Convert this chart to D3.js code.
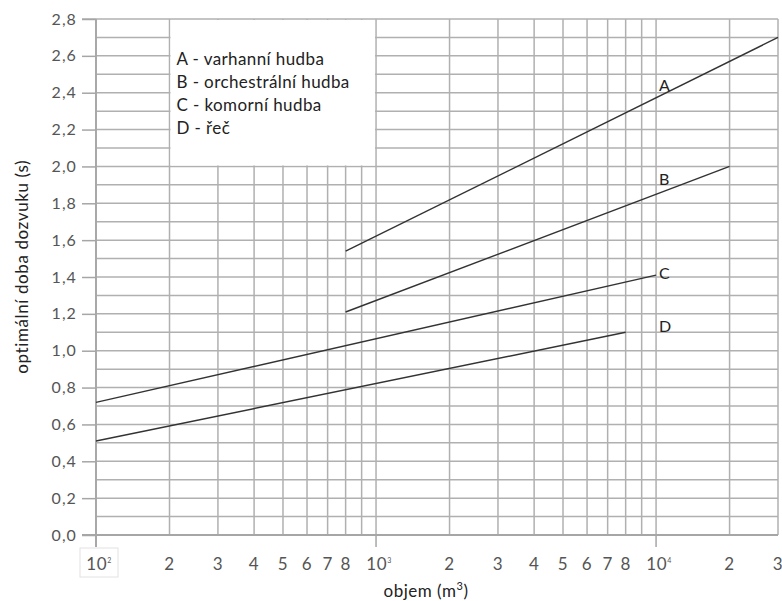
<!DOCTYPE html>
<html>
<head>
<meta charset="utf-8">
<script src="https://cdn.jsdelivr.net/npm/d3@7"></script>
<style>
  body { margin: 0; background: #fff; }
  svg { display: block; font-family: Lato, "Open Sans", sans-serif; }
</style>
</head>
<body>
<svg></svg>
<script>
'use strict';

// curves: [volume m3, reverberation time s] at the two ends of each straight segment
var curveNames = ['A', 'B', 'C', 'D'];
var curveA = [[800, 1.54], [30000, 2.70]];
var curveB = [[800, 1.21], [20000, 2.00]];
var curveC = [[100, 0.72], [10000, 1.41]];
var curveD = [[100, 0.51], [8000, 1.10]];
var labelValues = [2.41, 1.90, 1.39, 1.10];   // where the letters sit next to the 10^4 line

var legendItems = ['A - varhanní hudba', 'B - orchestrální hudba', 'C - komorní hudba', 'D - řeč'];

var yTicks = [0, 0.2, 0.4, 0.6, 0.8, 1.0, 1.2, 1.4, 1.6, 1.8, 2.0, 2.2, 2.4, 2.6, 2.8];
var xTickValues = [100, 200, 300, 400, 500, 600, 700, 800, 1000, 2000, 3000, 4000, 5000, 6000, 7000, 8000, 10000, 20000, 30000];
var xTickLabels = ['10|2', '2', '3', '4', '5', '6', '7', '8', '10|3', '2', '3', '4', '5', '6', '7', '8', '10|4', '2', '3'];

function render() {
    var w = 782;
    var h = 601;
    var m = { left: 96, right: 4, top: 19, bottom: 66 };
    var d3 = window.d3;

    var svg = d3.select('svg').attr('width', w).attr('height', h);

    // the printed grid is not a pure log grid: inside each decade the spacing
    // follows log((m + 0.5) / 1.5) / log(7)
    function warp(v) {
        var e = Math.floor(Math.log10(v) + 1e-9);
        var mant = v / Math.pow(10, e);
        return e + Math.log((mant + 0.5) / 1.5) / Math.log(7);
    }

    var xs = d3.scaleLinear().domain([warp(100), warp(30000)]).range([m.left, w - m.right]);
    var x = function (v) { return xs(warp(v)); };
    var y = d3.scaleLinear().domain([0, 2.8]).range([h - m.bottom, m.top]);

    var gridColor = '#b0b0b0';
    var g = svg.append('g');

    // horizontal grid every 0.1
    var hLines = d3.range(1, 28).map(function (i) { return i / 10; });
    g.selectAll('.hgrid').data(hLines).enter().append('line')
        .attr('x1', m.left).attr('x2', w - m.right)
        .attr('y1', function (d) { return y(d); }).attr('y2', function (d) { return y(d); })
        .attr('stroke', gridColor).attr('stroke-width', 1.5);

    // vertical grid at every mantissa 1..9
    var vLines = [];
    [100, 1000, 10000].forEach(function (dec) {
        for (var k = 1; k <= 9; k++) {
            if (dec * k <= 30000) vLines.push(dec * k);
        }
    });
    g.selectAll('.vgrid').data(vLines).enter().append('line')
        .attr('x1', function (d) { return x(d); }).attr('x2', function (d) { return x(d); })
        .attr('y1', y(0)).attr('y2', y(2.8))
        .attr('stroke', gridColor).attr('stroke-width', 1.5);

    // legend panel blanks out part of the grid
    g.append('rect')
        .attr('x', x(200) + 1).attr('y', y(2.8) + 1)
        .attr('width', x(1000) - x(200) - 2).attr('height', y(2.0) - y(2.8) - 2)
        .attr('fill', '#fff');

    // frame top and axes
    g.append('line').attr('x1', m.left - 14).attr('x2', w - m.right).attr('y1', y(2.8)).attr('y2', y(2.8))
        .attr('stroke', gridColor).attr('stroke-width', 1.5);
    g.append('line').attr('x1', m.left - 14).attr('x2', w - m.right).attr('y1', y(0)).attr('y2', y(0))
        .attr('stroke', '#a6a6a6').attr('stroke-width', 1.8);
    g.append('line').attr('x1', m.left).attr('x2', m.left).attr('y1', y(0) + 12).attr('y2', y(2.8))
        .attr('stroke', '#a6a6a6').attr('stroke-width', 1.8);

    // y axis
    var yAxis = d3.axisLeft(y).tickValues(yTicks).tickSize(14).tickPadding(5)
        .tickFormat(function (d) { return d3.format('.1f')(d).replace('.', ','); });
    var ya = svg.append('g').attr('transform', 'translate(' + m.left + ',0)').call(yAxis);
    ya.select('.domain').remove();
    ya.selectAll('.tick line').attr('stroke', '#a6a6a6').attr('stroke-width', 1.5);
    ya.selectAll('.tick text').attr('fill', '#555').attr('font-size', 16)
        .attr('font-family', 'Lato, sans-serif').attr('letter-spacing', 1.1);

    // x axis labels
    var xa = svg.append('g');
    xa.selectAll('.xdec').data(xTickValues.filter(function (d, i) { return xTickLabels[i].indexOf('|') > -1; }))
        .enter().append('line')
        .attr('x1', function (d) { return x(d); }).attr('x2', function (d) { return x(d); })
        .attr('y1', y(0)).attr('y2', y(0) + 12)
        .attr('stroke', '#a6a6a6').attr('stroke-width', 1.5);

    xa.append('rect').attr('x', x(100) - 16).attr('y', y(0) + 13).attr('width', 38).attr('height', 29)
        .attr('fill', '#fff').attr('stroke', '#e2e2e2').attr('stroke-width', 1);

    xTickValues.forEach(function (v, i) {
        var parts = xTickLabels[i].split('|');
        var t = xa.append('text')
            .attr('x', x(v) + (parts.length > 1 ? 3 : 0)).attr('y', y(0) + 35)
            .attr('text-anchor', 'middle').attr('fill', '#555')
            .attr('font-size', 17).attr('letter-spacing', 0.6);
        t.append('tspan').text(parts[0]);
        if (parts.length > 1) {
            t.append('tspan').attr('font-size', 7).attr('dy', -7).text(parts[1]);
        }
    });

    // axis titles
    var xt = svg.append('text').attr('x', 426).attr('y', h - 4).attr('text-anchor', 'middle')
        .attr('fill', '#222').attr('font-size', 17).attr('letter-spacing', 0.5);
    xt.append('tspan').text('objem (m');
    xt.append('tspan').attr('font-size', 11).attr('dy', -7).text('3');
    xt.append('tspan').attr('dy', 7).text(')');

    svg.append('text')
        .attr('transform', 'translate(28,' + (y(1.45) - 1) + ') rotate(-90)')
        .attr('text-anchor', 'middle').attr('fill', '#222').attr('font-size', 17)
        .attr('letter-spacing', 0.6)
        .text('optimální doba dozvuku (s)');

    // curves
    var line = d3.line().x(function (d) { return x(d[0]); }).y(function (d) { return y(d[1]); });
    var curves = [curveA, curveB, curveC, curveD];
    svg.selectAll('.curve').data(curves).enter().append('path')
        .attr('d', line).attr('fill', 'none').attr('stroke', '#333').attr('stroke-width', 1.4);

    svg.selectAll('.curve-label').data(curveNames).enter().append('text')
        .attr('x', x(10000) + 3).attr('y', function (d, i) { return y(labelValues[i]); })
        .attr('fill', '#222').attr('font-size', 16).text(function (d) { return d; });

    // legend text
    svg.selectAll('.legend').data(legendItems).enter().append('text')
        .attr('x', x(200) + 7)
        .attr('y', function (d, i) { return y(2.8) + 46 + i * 23; })
        .attr('fill', '#222').attr('font-size', 17).attr('letter-spacing', 0.4)
        .text(function (d) { return d; });
}

render();
</script>
</body>
</html>
